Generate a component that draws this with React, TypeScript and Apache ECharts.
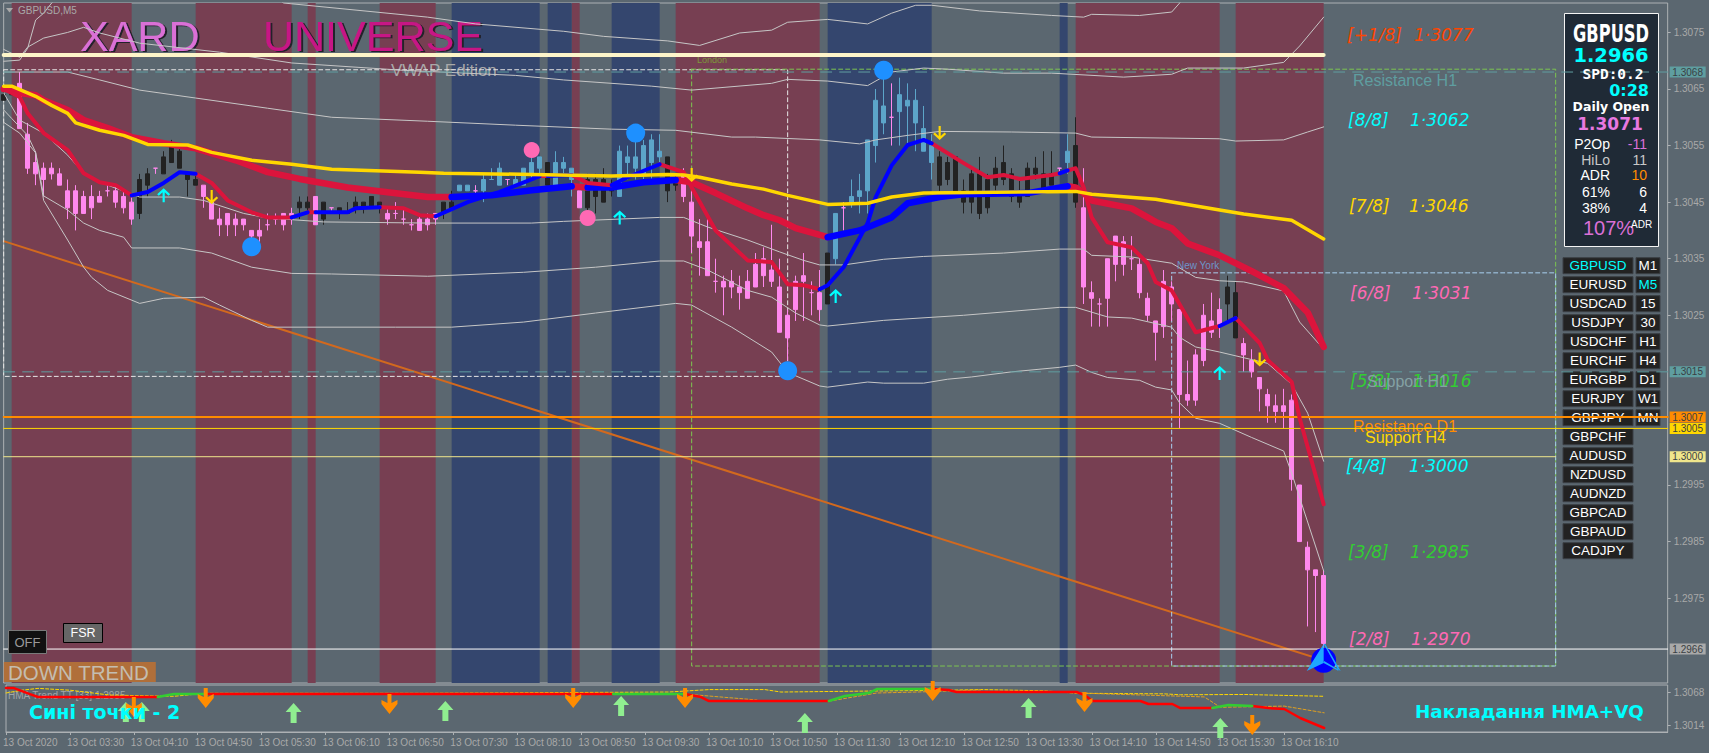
import React, { useEffect, useRef } from "react";
import * as echarts from "echarts";

// ---------- DATA (prices in 1/10000 units) ----------
const tickLabels = ["13 Oct 2020","13 Oct 03:30","13 Oct 04:10","13 Oct 04:50","13 Oct 05:30","13 Oct 06:10","13 Oct 06:50","13 Oct 07:30","13 Oct 08:10","13 Oct 08:50","13 Oct 09:30","13 Oct 10:10","13 Oct 10:50","13 Oct 11:30","13 Oct 12:10","13 Oct 12:50","13 Oct 13:30","13 Oct 14:10","13 Oct 14:50","13 Oct 15:30","13 Oct 16:10"];
const priceTicks = [1.3075,1.3065,1.3055,1.3045,1.3035,1.3025,1.2995,1.2985,1.2975];
const subTicks = [1.3068,1.3014];
const priceTags = [[1.3068,"#5f9ea0"],[1.3015,"#5f9ea0"],[1.3007,"#ff8c00"],[1.3005,"#ffd700"],[1.3,"#f0e68c"],[1.2966,"#a9a9a9"]];

// top, bottom, low, high of each M5 bar
const candles = [
[13064,13063,13063,13065],[13064,13064,13064,13065],[13066,13058,13058,13068],[13057,13051,13050,13059],[13052,13050,13048,13054],[13051,13049,13046,13052],[13051,13050,13049,13052],[13050,13048,13048,13051],
[13047,13044,13042,13049],[13047,13043,13040,13048],[13046,13043,13043,13047],[13046,13044,13042,13048],[13046,13045,13045,13047],[13047,13047,13046,13048],[13047,13045,13044,13048],[13046,13044,13043,13047],
[13045,13042,13041,13046],[13049,13043,13042,13050],[13050,13048,13046,13051],[13051,13051,13050,13051],[13053,13050,13050,13054],[13055,13052,13052,13056],[13054,13051,13051,13055],[13050,13049,13046,13050],
[13049,13048,13048,13050],[13048,13046,13044,13048],[13045,13042,13042,13046],[13042,13041,13039,13044],[13043,13041,13039,13043],[13042,13041,13039,13043],[13042,13041,13040,13042],[13040,13039,13037,13040],
[13040,13039,13038,13042],[13041,13041,13040,13043],[13042,13042,13041,13043],[13043,13041,13040,13043],[13043,13042,13041,13044],[13045,13044,13042,13046],[13045,13044,13043,13046],[13046,13041,13041,13046],
[13045,13042,13041,13045],[13044,13044,13043,13044],[13044,13043,13042,13044],[13043,13043,13043,13045],[13045,13044,13043,13046],[13045,13044,13043,13045],[13046,13044,13044,13046],[13045,13044,13043,13045],
[13043,13042,13041,13044],[13043,13043,13042,13045],[13042,13042,13041,13044],[13041,13041,13040,13042],[13042,13040,13040,13043],[13042,13041,13040,13043],[13043,13042,13041,13043],[13045,13043,13042,13045],
[13045,13044,13044,13047],[13048,13047,13047,13048],[13048,13047,13047,13048],[13047,13047,13046,13048],[13049,13047,13045,13050],[13049,13049,13049,13051],[13051,13048,13048,13052],[13049,13049,13048,13049],
[13049,13048,13048,13050],[13051,13048,13048,13051],[13052,13050,13049,13053],[13053,13051,13050,13053],[13052,13048,13048,13052],[13052,13048,13047,13054],[13052,13051,13050,13053],[13051,13049,13046,13051],
[13047,13044,13044,13047],[13049,13044,13043,13050],[13049,13046,13043,13050],[13049,13045,13045,13051],[13048,13047,13046,13049],[13054,13046,13046,13055],[13053,13052,13049,13055],[13053,13051,13049,13057],
[13055,13050,13049,13056],[13056,13052,13049,13057],[13054,13053,13052,13057],[13053,13047,13045,13053],[13049,13048,13047,13050],[13050,13046,13045,13051],[13045,13039,13036,13048],[13038,13037,13032,13042],
[13038,13032,13032,13042],[13031,13031,13029,13035],[13031,13030,13025,13032],[13031,13030,13028,13033],[13030,13029,13026,13032],[13031,13028,13028,13033],[13034,13030,13030,13036],[13035,13032,13030,13037],
[13033,13031,13030,13041],[13030,13022,13022,13035],[13025,13021,13017,13026],[13031,13026,13024,13032],[13032,13031,13024,13036],[13029,13029,13025,13031],[13029,13026,13024,13033],[13036,13027,13027,13036],
[13043,13035,13034,13043],[13044,13044,13040,13045],[13046,13045,13044,13049],[13047,13046,13043,13050],[13056,13047,13043,13056],[13063,13055,13052,13065],[13062,13059,13057,13067],[13060,13060,13055,13066],
[13064,13061,13055,13067],[13063,13062,13055,13066],[13063,13059,13054,13065],[13058,13054,13054,13062],[13055,13052,13049,13057],[13053,13048,13047,13054],[13052,13049,13048,13053],[13053,13047,13047,13053],
[13047,13045,13043,13049],[13050,13045,13043,13051],[13050,13043,13042,13053],[13049,13044,13043,13050],[13051,13048,13047,13053],[13052,13049,13048,13055],[13050,13046,13045,13051],[13047,13045,13044,13049],
[13051,13046,13046,13052],[13051,13050,13049,13053],[13050,13047,13047,13054],[13050,13048,13048,13054],[13051,13051,13050,13051],[13054,13052,13050,13057],[13055,13045,13044,13060],[13044,13030,13027,13051],
[13029,13028,13023,13031],[13027,13027,13023,13028],[13035,13028,13023,13035],[13039,13034,13031,13039],[13038,13034,13032,13039],[13035,13035,13033,13039],[13034,13029,13028,13035],[13028,13025,13024,13029],
[13024,13022,13017,13024],[13031,13023,13021,13033],[13030,13027,13024,13031],[13026,13011,13005,13026],[13011,13010,13009,13017],[13018,13010,13009,13019],[13025,13017,13016,13027],[13024,13022,13021,13029],
[13026,13023,13021,13028],[13030,13027,13024,13032],[13029,13021,13021,13031],[13020,13018,13015,13021],[13017,13015,13014,13019],[13014,13012,13008,13014],[13011,13009,13006,13012],[13009,13008,13006,13011],
[13009,13008,13005,13012],[13010,12996,12994,13011],[12995,12985,12985,12995],[12984,12980,12970,12985],[12980,12979,12969,12980],[12979,12967,12966,12980],
];
// runs of candle colour: d = dark, p = pink, b = blue
const candleRuns: [string, number][] = [["d",2],["p",15],["d",2],["p",1],["d",5],["p",12],["d",2],["p",1],["d",1],["p",1],["d",6],["p",7],["d",2],["b",2],["p",1],["b",3],["p",1],["b",4],["d",1],["b",3],["p",1],["d",4],["b",6],["d",2],["p",18],["d",1],["b",1],["p",1],["b",5],["p",1],["b",5],["d",15],["p",1],["b",1],["d",1],["p",18],["d",2],["p",11]];

// session backdrop: [first bar, last bar]
const maroonBands = [[1,16],[24,36],[38,39],[47,54],[71,72],[84,102],[134,152],[154,165]];
const blueBands = [[56,67],[68,71],[76,82],[103,116],[132,133]];

// VWAP bands [bar, price]
const vwapT0 = [[0,13069.9],[2,13070.1],[3,13072.2],[4,13077.2],[5,13078.4],[6,13080.2],[8,13083],[20,13090],[30,13085],[35,13080.2],[53,13077.7],[59,13076.5],[70,13075.2],[75,13074.3],[83,13073.5],[87,13072.7],[92,13074.9],[96,13075.4],[98,13076.8],[103,13077.3],[108,13076.5],[111,13078.4],[114,13079.8],[116,13079.8],[122,13078.8],[131,13078],[135,13077.7],[136,13078.2],[142,13078],[146,13078.6],[147,13080.2],[150,13086]];
const vwapT1 = [[0,13072],[2,13070.6],[3,13072.4],[5,13074],[8,13075],[10,13075.9],[12,13074.9],[17,13073.1],[27,13071.5],[36,13069.6],[50,13068.3],[53,13068.1],[64,13067.4],[70,13066.6],[81,13065.5],[86,13064.8],[96,13066],[98,13066.7],[103,13066.4],[108,13065.6],[111,13068],[115,13068.7],[118,13068.5],[125,13067.8],[131,13067.8],[140,13067.1],[146,13067.6],[148,13068.7],[155,13068.7],[160,13069.7],[162,13072.6],[165,13077.7]];
const vwapT2 = [[0,13068],[8,13068],[12,13066.6],[17,13064.8],[24,13063.4],[33,13061.6],[41,13060],[53,13059.3],[64,13058.6],[76,13057.9],[84,13057.7],[91,13056.5],[94,13056.5],[102,13056],[107,13055.3],[109,13056],[113,13056.8],[117,13057.5],[126,13057.4],[134,13057.2],[136,13056.5],[152,13056.2],[154,13055.8],[160,13056],[163,13057.4],[165,13058.3]];
const vwapU1 = [[0,13064.3],[2,13059.5],[5,13057.2],[8,13053.3],[10,13050.1],[13,13048],[17,13045.9],[22,13045.9],[25,13045.3],[30,13043],[33,13042.2],[40,13041.5],[53,13041.3],[66,13041.3],[70,13041.6],[82,13042.3],[85,13042.3],[88,13040.6],[93,13038.3],[97,13036.2],[100,13034.7],[102,13033.9],[105,13033.9],[110,13034.9],[115,13035.4],[125,13036],[132,13036.7],[135,13036.7],[136,13035.6],[141,13035.3],[146,13034.2],[149,13031.7],[152,13031.1],[155,13030.9],[160,13029.3],[162,13023.8],[165,13019]];
const vwapU2 = [[0,13061.3],[1,13059.8],[3,13056.8],[4,13053.8],[5,13046.1],[8,13043.6],[10,13041.3],[12,13040],[15,13038.8],[16,13036.9],[22,13036.9],[26,13036],[31,13033.5],[36,13032.4],[41,13032.3],[53,13031.9],[65,13032.6],[74,13033.5],[82,13034.6],[85,13034.6],[88,13033],[93,13029.4],[96,13028.2],[99,13025.4],[102,13023.3],[103,13023.1],[110,13024.1],[120,13025],[132,13026.4],[134,13026.4],[138,13024.7],[141,13024.5],[146,13022.9],[147,13021.1],[149,13019.4],[152,13018.5],[158,13016.5],[161,13012.8],[163,13007.7],[165,12999.2]];
const vwapU3 = [[0,13059.1],[2,13057.2],[4,13053.7],[5,13045.3],[8,13038.3],[10,13033.5],[11,13031.7],[13,13029.4],[17,13027.1],[20,13028],[25,13028.2],[27,13026.8],[31,13024.1],[33,13022.9],[49,13022.9],[56,13022.9],[65,13023.8],[74,13025.4],[84,13027.1],[86,13026.8],[91,13022.9],[96,13018.5],[98,13014.9],[102,13012.5],[103,13012.3],[108,13013.2],[110,13013],[115,13013],[118,13013.7],[121,13014.1],[126,13015],[132,13015.8],[134,13016.2],[136,13014.9],[138,13014],[142,13013.5],[144,13012.3],[146,13011.8],[147,13009.5],[149,13006.8],[152,13005.9],[156,13003.4],[160,13001],[161,12997.1],[165,12979.8]];
const vwapLines = [vwapT0,vwapT1,vwapT2,vwapU1,vwapU2,vwapU3];

const yellowAvg = [[0,13065.5],[1,13065.5],[4,13063.7],[6,13062.1],[8,13060.7],[9,13059],[12,13057.7],[15,13056.8],[18,13055.2],[23,13055.1],[26,13053.8],[31,13052.4],[36,13051.7],[41,13050.8],[52,13050.3],[55,13050.1],[66,13049.9],[76,13049.6],[83,13049.9],[85,13049.8],[87,13049.4],[91,13048.2],[95,13047.3],[98,13046.2],[103,13044.6],[108,13044.8],[111,13045.9],[115,13046.6],[134,13046.9],[136,13046.4],[144,13045.5],[152,13043.6],[155,13042.9],[161,13041.8],[165,13038.5]];

const slowRed1 = [[0,13065],[1,13065],[2,13064.3],[4,13063.9],[5,13063],[8,13061.3],[10,13059.5],[13,13058.1],[16,13056.5],[20,13055.4],[24,13054.5],[29,13052.4],[33,13050.3],[37,13049.1],[43,13047.6],[53,13045.9],[56,13045.9]];
const slowBlue1 = [[56,13045.9],[61,13046.2],[66,13047.1],[71,13047.8]];
const slowRed2 = [[71,13047.8],[73,13047.6]];
const slowBlue2 = [[73,13047.6],[76,13047.6],[80,13048.5],[84,13048.9]];
const slowRed3 = [[84,13048.9],[86,13048.5],[89,13046.6],[93,13043.9],[95,13042.7],[97,13041.8],[99,13040.4],[103,13038.8]];
const slowBlue3 = [[103,13038.8],[107,13040],[111,13042.3],[113,13044.8],[117,13045.9],[120,13046.4],[128,13046.6],[133,13047.8]];
const slowRed4 = [[133,13047.8],[134,13047.6],[135,13046.6],[136,13045.3],[141,13043.9],[144,13041.5],[146,13040.4],[148,13037.7],[152,13035.6],[156,13032.8],[160,13029.8],[163,13025.5],[165,13019.4]];
const slowReds = [slowRed1,slowRed2,slowRed3,slowRed4];
const slowBlues = [slowBlue1,slowBlue2,slowBlue3];

const fastReds = [
[[0,13065],[2,13063.6],[3,13060.7],[5,13057.2],[8,13054.2],[10,13050.1],[12,13048.5],[14,13048],[16,13046.2]],
[[24,13050],[26,13048.4],[28,13045.3],[31,13043.2],[33,13042.3],[36,13042.3]],
[[38,13043.2],[39,13043.2]],
[[47,13044.1],[50,13043.9],[52,13042.7],[54,13042.5]],
[[67,13049.6],[68,13049.6]],
[[71,13049.8],[73,13048.4],[76,13048]],
[[82,13051.7],[85,13050.3],[86,13047.6],[89,13040],[93,13034.7],[96,13034.4],[98,13030.5],[100,13030.3],[102,13029.6]],
[[116,13055.4],[120,13051.9],[123,13049.4],[125,13049.8],[127,13049.1],[131,13049.8],[132,13050.1]],
[[133,13050.6],[134,13051],[135,13047.6],[136,13042.3],[138,13037.9],[141,13037],[143,13034.2],[144,13030.9],[146,13029.4],[149,13022],[152,13023.1]],
[[154,13024.5],[157,13020.1],[158,13017.1],[161,13013.2],[162,13006.8],[165,12991.6]],
];
const fastBlues = [
[[16,13046.2],[18,13046.8],[20,13048.4],[22,13050.3],[24,13050]],
[[36,13042.3],[38,13043.2]],
[[39,13043.2],[43,13043.2],[44,13043.9],[47,13044.1]],
[[54,13042.5],[58,13045],[62,13046.8],[67,13049.6]],
[[68,13049.6],[71,13049.8]],
[[76,13048],[78,13049.4],[82,13051.7]],
[[102,13029.6],[103,13030.3],[105,13033.5],[108,13041.3],[109,13045.9],[111,13051.5],[113,13055.1],[115,13056],[116,13055.4]],
[[132,13050.1],[133,13050.6]],
[[152,13023.1],[154,13024.5]],
];
const trendLine = [[0,13038.1],[165,12964]];
const dailyOpen = 13071;
const spotPrice = 12966;

// markers [bar, price]
const cyanArrows = [[20,13046.2],[77,13042.3],[104,13028.4],[152,13014.8]];
const yellowArrows = [[26,13045.9],[86,13049.8],[117,13057.2],[157,13017.2]];
const blueDots = [[31,13037.1],[79,13057.2],[110,13068.3],[98,13015.2]];
const pinkDots = [[66,13054.2],[73,13042.2]];

// sub-window HMA
const hmaReds = [
[[0,13074.5],[1,13074.5],[2,13069.6],[3,13064.7],[4,13059.8],[19,13059.8]],
[[25,13064.7],[76,13064.7]],
[[85,13064.7],[87,13059.8],[88,13053.3],[103,13053.3]],
[[116,13072.9],[118,13071.3],[119,13068],[134,13068],[135,13063.1],[136,13053.3],[142,13053.3],[143,13048.4],[146,13048.4],[147,13041.8],[151,13041.8]],
[[156,13045.1],[158,13041.8],[160,13040.2],[162,13025.5],[165,13009.1]],
];
const hmaGreens = [
[[19,13059.8],[21,13064.7],[25,13064.7]],
[[76,13064.7],[85,13064.7]],
[[103,13053.3],[105,13061.5],[108,13066.4],[109,13072.9],[116,13072.9]],
[[151,13041.8],[153,13046.7],[156,13045.1]],
];
const hmaDashYellow = [[0,13066.4],[2,13071],[4,13074],[8,13071],[13,13063],[21,13061],[25,13066],[52,13066],[83,13068],[88,13072],[95,13072],[97,13068],[118,13071],[122,13072],[130,13070],[134,13066],[145,13065],[147,13063.5],[155,13064],[165,13061]];
const hmaDashOrange = [
[[85,13064.7],[94,13055]],
[[103,13053],[109,13066.4],[114,13068],[122,13071.3]],
[[134,13066.4],[150,13060],[152,13043],[160,13045],[165,13034]],
];
const greenUps = [[15,13035.3],[17,13035.3],[36,13033.6],[55,13036.9],[77,13045.1],[100,13017.3],[128,13041.8],[152,13009.1]];
const orangeDowns = [[16,13043.5],[25,13058.2],[48,13048.4],[71,13058.2],[85,13058.2],[116,13069.6],[135,13051.6],[156,13014]];

const murrayNames = ["[+1/8]","[8/8]","[7/8]","[6/8]","[5/8]","[4/8]","[3/8]","[2/8]"];
const murrayValues = ["1·3077","1·3062","1·3046","1·3031","1·3016","1·3000","1·2985","1·2970"];
const symbols = ["GBPUSD","EURUSD","USDCAD","USDJPY","USDCHF","EURCHF","EURGBP","EURJPY","GBPJPY","GBPCHF","AUDUSD","NZDUSD","AUDNZD","GBPCAD","GBPAUD","CADJPY"];
const timeframes = ["M1","M5","15","30","H1","H4","D1","W1","MN"];
const statsLeft = ["P2Op","HiLo","ADR","61%","38%"];
const statsRight = ["-11","11","10","6","4"];

// ---------- STYLE ----------
const BG = "#5b6770", MAROON = "#773f52", NAVY = "#34466e", PINK = "#ff88ee", DARK = "#222222", CANDLE_BLUE = "#5ca5c9";
const CRIMSON = "#dc143c", LINEBLUE = "#0000ff", GOLD = "#ffd700", AXIS = "#adb1b4", TICK = "#a9a9a9";
const SANS = '"Liberation Sans", Arial, sans-serif', WIDE = '"DejaVu Sans", sans-serif';
const BARS = 209;
const Y_MAX = 1.30802, Y_MIN = 1.296;
const SUB_MAX = 1.30795, SUB_MIN = 1.30026;

const UP_THIN = "path://M6,0 L12,6 L10.5,7.5 L7,4 L7,14 L5,14 L5,4 L1.5,7.5 L0,6 Z";
const DOWN_THIN = "path://M5,0 L7,0 L7,10 L10.5,6.5 L12,8 L6,14 L0,8 L1.5,6.5 L5,10 Z";
const UP_FAT = "path://M8,0 L16,9 L11,9 L11,20 L5,20 L5,9 L0,9 Z";
const DOWN_FAT = "path://M6,0 L10,0 L10,9 L16,6 L16,10 L8,20 L0,10 L0,6 L6,9 Z";
const TRI = "path://M17,0 L0,27 L17,19 Z M17,0 L18.5,0 L34,27 L32,27 Z M17,19 L32,27 L34,27 L17.5,17 Z";

const px = (pts: number[][]) => pts.map(([k, p]) => [k, p / 10000]);

function line(pts: number[][], color: string, width: number, z: number, type: any = "solid", axis = 0, clip = true) {
  return {
    type: "line", xAxisIndex: axis, yAxisIndex: axis, data: px(pts), symbol: "none", silent: true, z, clip,
    lineStyle: { color, width, type, cap: "round", join: "round" },
  };
}
function hline(p: number, toBar: number, color: string, width: number, z: number, type: any = "solid") {
  return line([[0, p], [toBar, p]], color, width, z, type);
}
function box(k1: number, k2: number, top: number, bottom: number, color: string) {
  return line([[k1, top], [k2, top], [k2, bottom], [k1, bottom], [k1, top]], color, 1, 3, [4, 3]);
}
function marks(pts: number[][], symbol: string, size: any, color: string, z: number, axis = 0) {
  return {
    type: "scatter", xAxisIndex: axis, yAxisIndex: axis, data: px(pts), symbol, symbolSize: size, silent: true, z,
    itemStyle: { color, opacity: 1 }, clip: false,
  };
}

function text(str: string, x: number, y: number, fill: string, size: number, z: number, extra: any = {}) {
  return {
    type: "text", z, silent: true,
    style: { text: str, x, y, fill, fontSize: size, fontFamily: SANS, textVerticalAlign: "middle", textAlign: "left", ...extra },
  };
}
function rect(x: number, y: number, width: number, height: number, fill: string, z: number, stroke?: string) {
  return { type: "rect", z, silent: true, shape: { x, y, width, height }, style: { fill, stroke: stroke || "transparent", lineWidth: stroke ? 1 : 0 } };
}

function buildGraphic() {
  const out: any[] = [];
  const murrayColors = ["#ff4500", "#00ffff", GOLD, "#ff69b4", "#32cd32", "#00ffff", "#32cd32", "#ff69b4"];
  const murrayY = [35, 120, 206, 293, 381, 466, 552, 639];
  const murrayX = [1347, 1348, 1349, 1350, 1350, 1346, 1348, 1349];
  const murrayNumX = [1414, 1410, 1409, 1412, 1412, 1409, 1410, 1411];
  const murrayFont = { fontStyle: "italic", fontFamily: WIDE };
  murrayNames.forEach((n, i) => {
    out.push(text(n, murrayX[i], murrayY[i], murrayColors[i], 17, 3, murrayFont));
    out.push(text(murrayValues[i], murrayNumX[i], murrayY[i], murrayColors[i], 17, 3, murrayFont));
  });
  out.push(text("Resistance H1", 1353, 80, "#5f9ea0", 16, 3));
  out.push(text("Support H1", 1367, 381, "#84a2a4", 16, 3));
  out.push(text("Resistance D1", 1353, 426, "#ff8c00", 16, 3));
  out.push(text("Support H4", 1365, 437, GOLD, 16, 3));

  const shadow = { textShadowColor: "#23232a", textShadowOffsetX: 2, textShadowOffsetY: 1, textShadowBlur: 1, shadowColor: "#23232a", shadowOffsetX: 2, shadowOffsetY: 1, shadowBlur: 1 };
  out.push(text("XARD", 80, 36, "#da70d6", 43, 2, shadow));
  out.push(text("UNIVERSE", 263, 36, "#c71585", 43, 2, shadow));
  out.push(text("VWAP Edition", 391, 70, "#a9a9a9", 17, 2));
  out.push(text("GBPUSD,M5", 18, 10, TICK, 10, 8));
  out.push({ type: "polygon", z: 8, silent: true, shape: { points: [[6, 8], [13, 8], [9.5, 12.5]] }, style: { fill: TICK } });
  out.push(text("London", 697, 60, "#7d9a3a", 9, 3));
  out.push(text("New York", 1177, 265, "#6c95c9", 10, 8));

  // info panel
  out.push(rect(1564.5, 13.5, 94, 233, "#1f2a36", 5, "#f4f4f4"));
  const c = { textAlign: "center" };
  out.push({
    type: "text", z: 6, silent: true, x: 1611, y: 33, scaleX: 0.65,
    style: { text: "GBPUSD", x: 0, y: 0, fill: "#ffffff", fontSize: 25, fontWeight: "bold", fontFamily: WIDE, textAlign: "center", textVerticalAlign: "middle" },
  });
  out.push(text("1.2966", 1611, 55, "#00ffff", 19.5, 6, { ...c, fontWeight: "bold", fontFamily: WIDE }));
  out.push(text("SPD:0.2", 1613, 74, "#ffffff", 14.5, 8, { ...c, fontWeight: "bold", fontFamily: '"DejaVu Sans Mono", monospace' }));
  out.push(text("0:28", 1649, 90, "#00ffff", 16, 6, { textAlign: "right", fontWeight: "bold", fontFamily: WIDE }));
  out.push(text("Daily Open", 1611, 106, "#ffffff", 12.5, 6, { ...c, fontWeight: "bold", fontFamily: WIDE }));
  out.push(text("1.3071", 1610, 124, "#e878e0", 17, 6, { ...c, fontWeight: "bold", fontFamily: WIDE }));
  const rowY = [144, 160, 175, 192, 208];
  const leftCol = ["#ffffff", "#c8c8c8", "#ffffff", "#ffffff", "#ffffff"];
  const rightCol = ["#da70d6", "#c8c8c8", "#ff8c00", "#ffffff", "#ffffff"];
  statsLeft.forEach((s, i) => {
    out.push(text(s, 1610, rowY[i], leftCol[i], 14, 6, { textAlign: "right" }));
    out.push(text(statsRight[i], 1647, rowY[i], rightCol[i], 14, 6, { textAlign: "right" }));
  });
  out.push(text("107%", 1583, 228, "#da70d6", 20, 6));
  out.push(text("ADR", 1631, 224, "#ffffff", 10, 6));

  // buttons
  symbols.forEach((s, i) => {
    const y = 257.7 + i * 19;
    out.push(rect(1563, y, 70, 16, "#222222", 5, "#3a3f44"));
    out.push(text(s, 1598, y + 8, i === 0 ? "#00ffff" : "#ffffff", 13.5, 6, c));
  });
  timeframes.forEach((s, i) => {
    const y = 257.7 + i * 19;
    out.push(rect(1636, y, 24, 16, "#222222", 5, "#3a3f44"));
    out.push(text(s, 1648, y + 8, i === 1 ? "#00ffff" : "#ffffff", 13.5, 6, c));
  });

  out.push(rect(8.5, 630.5, 38, 23, "#111111", 8, "#7a7a7a"));
  out.push(text("OFF", 27.5, 642, "#9a9a9a", 13, 9, c));
  out.push(rect(63.5, 623.5, 39, 19, "#666666", 8, "#000000"));
  out.push(text("FSR", 83, 633, "#ffffff", 12.5, 9, c));
  out.push(rect(3.8, 662, 152, 20, "#b06f3a", 8));
  out.push(text("DOWN TREND", 8, 672.5, "#c4bdb0", 20.5, 9));

  // sub window captions
  out.push(text("HMA Trend TT [33] 1.2985", 8, 695, "#a0a4a8", 10, 2));
  out.push(text("Сині точки - 2", 29, 712, "#00ffff", 19, 9, { fontWeight: "bold", fontFamily: WIDE }));
  out.push(text("Накладання HMA+VQ", 1415, 711, "#00ffff", 18.3, 9, { fontWeight: "bold", fontFamily: WIDE }));
  return out;
}

export default function App() {
  const ref = useRef<HTMLDivElement>(null);
  useEffect(() => {
    const chart = echarts.init(ref.current!, undefined, { renderer: "svg" });
    const categories = Array.from({ length: BARS }, (_, i) => String(i));
    const kinds: string[] = [];
    candleRuns.forEach(([c, n]) => { for (let i = 0; i < n; i++) kinds.push(c); });
    const candleColor: any = { d: DARK, p: PINK, b: CANDLE_BLUE };
    const candleData = candles.map((c, i) => {
      const col = candleColor[kinds[i]] || PINK;
      return {
        value: [c[0] / 10000, c[1] / 10000, c[2] / 10000, c[3] / 10000],
        itemStyle: { color: col, color0: col, borderColor: col, borderColor0: col, borderWidth: 1 },
      };
    });
    const bandData = [...maroonBands.map((b) => [b[0], b[1], 0]), ...blueBands.map((b) => [b[0], b[1], 1])];

    const series: any[] = [
      {
        type: "custom", xAxisIndex: 0, yAxisIndex: 0, silent: true, z: 1, data: bandData, clip: true,
        renderItem: (_p: any, api: any) => {
          const a = api.coord([api.value(0), Y_MAX]);
          const b = api.coord([api.value(1), Y_MIN]);
          return { type: "rect", shape: { x: a[0], y: a[1], width: b[0] - a[0], height: b[1] - a[1] }, style: { fill: api.value(2) === 0 ? MAROON : NAVY } };
        },
      },
      line(trendLine, "#d2691e", 2, 3),
      ...vwapLines.map((l) => line(l, "#c6c6c6", 1, 5)),
      box(0, 98, 13068.4, 13014.2, "#e6e6e6"),
      box(86, 194, 13068.5, 12963, "#7cc650"),
      box(146, 194, 13032.5, 12963, "#a8d0f0"),
      {
        type: "candlestick", xAxisIndex: 0, yAxisIndex: 0, data: candleData, barWidth: 5, silent: true, z: 4, clip: true,
      },
      hline(dailyOpen, 165.2, "#fdf5c9", 4, 6),
      hline(13068, 208, "#5f9ea0", 1, 7, [11, 8]),
      hline(13015, 208, "#5f9ea0", 1, 7, [11, 8]),
      hline(13007, 208, "#ff8c00", 2, 7),
      hline(13005, 208, GOLD, 1, 7),
      hline(13000, 194, "#f0e68c", 1, 7),
      hline(spotPrice, 208, "#ffffff", 1, 7),
      line(yellowAvg, GOLD, 3.5, 11),
      ...slowReds.map((l) => line(l, CRIMSON, 6.5, 9)),
      ...slowBlues.map((l) => line(l, LINEBLUE, 6.5, 9)),
      ...fastReds.map((l) => line(l, CRIMSON, 4, 10)),
      ...fastBlues.map((l) => line(l, LINEBLUE, 4, 10)),
      marks(cyanArrows, UP_THIN, [13, 14], "#00ffff", 12),
      marks(yellowArrows, DOWN_THIN, [13, 14], GOLD, 12),
      marks(blueDots, "circle", 19, "#1e90ff", 12),
      marks(pinkDots, "circle", 16, "#ff69b4", 12),
      marks([[165, 12964]], "circle", 25, "#0000ff", 12),
      marks([[165, 12964.5]], TRI, [34, 27], "#1ea7ff", 13),
      {
        type: "custom", xAxisIndex: 0, yAxisIndex: 0, silent: true, z: 14, clip: false, data: priceTags.map((t) => [208, t[0]]),
        renderItem: (p: any, api: any) => {
          const c = api.coord([208, api.value(1)]);
          const tag = priceTags[p.dataIndex];
          return {
            type: "group",
            children: [
              { type: "rect", shape: { x: c[0] + 2, y: c[1] - 5.5, width: 36, height: 11 }, style: { fill: tag[1] as string } },
              { type: "text", style: { text: (tag[0] as number).toFixed(4), x: c[0] + 20, y: c[1], fill: "#3a3f44", fontSize: 10, fontFamily: SANS, textAlign: "center", textVerticalAlign: "middle" } },
            ],
          };
        },
      },
      // sub window
      line(hmaDashYellow, GOLD, 1, 3, [3, 2], 1),
      ...hmaDashOrange.map((l) => line(l, "#e0a020", 1, 3, [3, 2], 1)),
      ...hmaReds.map((l) => line(l, "#ff0000", 2.5, 4, "solid", 1)),
      ...hmaGreens.map((l) => line(l, "#32cd32", 2.5, 4, "solid", 1)),
      marks(greenUps, UP_FAT, [16, 20], "#90ee90", 5, 1),
      marks(orangeDowns, DOWN_FAT, [16, 20], "#ff8c00", 5, 1),
    ];

    const xBase = { type: "category", data: categories, boundaryGap: false };
    chart.setOption({
      animation: false,
      backgroundColor: BG,
      grid: [
        { left: 3.67, right: 41.33, top: 3, height: 680, show: true, borderColor: AXIS, borderWidth: 1, backgroundColor: "transparent" },
        { left: 3.67, right: 41.33, top: 685, height: 47, show: true, borderColor: AXIS, borderWidth: 1, backgroundColor: "transparent" },
      ],
      xAxis: [
        { ...xBase, gridIndex: 0, show: false },
        {
          ...xBase, gridIndex: 1, axisLine: { lineStyle: { color: AXIS } },
          axisTick: { interval: (i: number) => i % 8 === 0 && i <= 160, length: 3, lineStyle: { color: AXIS } },
          axisLabel: {
            interval: (i: number) => i % 8 === 0 && i <= 160, color: TICK, fontSize: 10, fontFamily: SANS, align: "left", margin: 5,
            padding: [0, 0, 0, -3],
            formatter: (_v: string, i: number) => tickLabels[i / 8] || "",
          },
          splitLine: { show: false },
        },
      ],
      yAxis: [
        {
          type: "value", gridIndex: 0, position: "right", min: Y_MIN, max: Y_MAX, scale: true,
          axisLine: { show: false },
          axisTick: { show: true, length: 3, lineStyle: { color: AXIS }, customValues: priceTicks },
          axisLabel: { color: TICK, fontSize: 10, fontFamily: SANS, margin: 6, customValues: priceTicks, formatter: (v: number) => v.toFixed(4) },
          splitLine: { show: false },
        },
        {
          type: "value", gridIndex: 1, position: "right", min: SUB_MIN, max: SUB_MAX, scale: true,
          axisLine: { show: false },
          axisTick: { show: true, length: 3, lineStyle: { color: AXIS }, customValues: subTicks },
          axisLabel: { color: TICK, fontSize: 10, fontFamily: SANS, margin: 6, customValues: subTicks, formatter: (v: number) => v.toFixed(4) },
          splitLine: { show: false },
        },
      ],
      series,
      graphic: { elements: buildGraphic() },
    });
    return () => chart.dispose();
  }, []);
  return <div ref={ref} style={{ position: "fixed", left: 0, top: 0, width: 1709, height: 753 }} />;
}
